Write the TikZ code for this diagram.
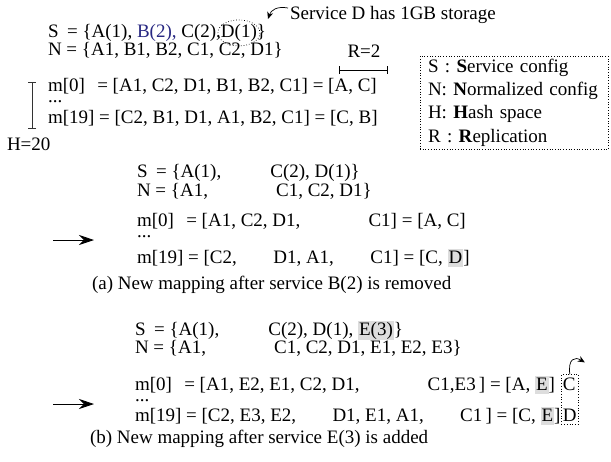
\documentclass[tikz,border=0pt]{standalone}
\usepackage{fontspec}
\setmainfont{Liberation Serif}
\usetikzlibrary{arrows.meta,fit,calc}
\definecolor{blueB}{RGB}{40,40,130}
\definecolor{hlgray}{RGB}{221,221,221}
\newcommand{\hlbox}[1]{{\setlength{\fboxsep}{1pt}\colorbox{hlgray}{\vphantom{[}#1}}}
\begin{document}
\begin{tikzpicture}[x=1pt,y=-1pt,
  every node/.style={inner sep=0pt,outer sep=0pt,font=\fontsize{19}{23.3}\selectfont},
  txt/.style={anchor=base west},
  dotsnode/.style={anchor=base west,text height=3pt,text depth=0pt},
  bigarrow/.style={line width=0.8pt,-{Stealth[length=15pt,width=10pt,inset=5pt]}},
  smallarrow/.style={line width=0.7pt,-{Stealth[length=7pt,width=6pt]}},
  barline/.style={line width=0.7pt,{Bar[width=8pt]}-{Bar[width=8pt]}},
  dotbox/.style={draw,dotted,line width=0.7pt}]
\useasboundingbox (0,0) rectangle (611,461);

% ---------- top configuration ----------
\node[txt] (svc) at (290,19) {Service D has 1GB storage};
\node[txt] (S0) at (48,37) {S\hspace{0.2em} = \{A(1), \textcolor{blueB}{B(2),} C(2),\ };
\node[txt] (SD) at (S0.base east) {D(1)};
\node[txt] (S2) at (SD.base east) {\}};
\draw[dotted,line width=0.7pt] ($(SD.center)+(0,0.5)$) ellipse [x radius=21, y radius=13];
\coordinate (svcA) at (288,8);
\coordinate (svcB) at (268,19);
\draw[smallarrow] (svcA) .. controls +(-11,-2) and +(3,-9) .. (svcB);

\node[txt] (N0) at (48,55) {N = \{A1, B1, B2, C1, C2, D1\}};

\node[anchor=base] (rlab) at (364,57) {R=2};
\coordinate (r1) at (339,70);
\coordinate (r2) at (388,70);
\draw[barline] (r1) -- (r2);

\node[txt] (m0) at (48,91) {m[0]\hspace{0.4em} = [A1, C2, D1, B1, B2, C1] = [A, C]};
\node[dotsnode] (dots0) at (48,102) {...};
\node[txt] (m19) at (48,123) {m[19] = [C2, B1, D1, A1, B2, C1] = [C, B]};
\coordinate (h1) at (32,82);
\coordinate (h2) at (32,129);
\draw[barline,black!80] (h1) -- (h2);
\node[txt] (H) at (7,150) {H=20};

% ---------- legend ----------
\node[dotbox,anchor=north west,align=left,text width=172pt,minimum width=188pt,
      inner xsep=8pt,inner ysep=3pt] (leg) at (420,56)
  {S : \textbf{S}ervice config\\
   N: \textbf{N}ormalized config\\
   H: \textbf{H}ash space\\
   R : \textbf{R}eplication};

% ---------- (a) ----------
\node[txt] (aS) at (137,177) {S\hspace{0.2em} = \{A(1), \phantom{B(2), }C(2), D(1)\}};
\node[txt] (aN) at (137,196) {N = \{A1, \phantom{B1, B2, }C1, C2, D1\}};
\node[txt] (am0) at (137,226) {m[0]\hspace{0.4em} = [A1, C2, D1, \phantom{B1, B2, }C1] = [A, C]};
\node[dotsnode] (adots) at (137,237) {...};
\node[txt] (am19) at (137,263) {m[19] = [C2, \phantom{B1, }D1, A1, \phantom{B2, }C1] = [C, \hlbox{D}]};
\coordinate (aA1) at (53,240);
\coordinate (aA2) at (94,240);
\draw[bigarrow] (aA1) -- (aA2);
\node[txt] (capa) at (92,289) {(a) New mapping after service B(2) is removed};

% ---------- (b) ----------
\node[txt] (bS) at (135,335) {S\hspace{0.2em} = \{A(1), \phantom{B(2), }C(2), D(1), \hlbox{E(3)}\}};
\node[txt] (bN) at (135,353) {N = \{A1, \phantom{B1, B2, }C1, C2, D1, E1, E2, E3\}};
\node[txt] (bm0) at (135,390) {m[0]\hspace{0.4em} = [A1, E2, E1, C2, D1, \phantom{B1, B2, }C1,E3\,] = [A, \hlbox{E}]};
\node[dotsnode] (bdots) at (135,401) {...};
\node[txt] (bm19) at (135,421) {m[19] = [C2, E3, E2, \phantom{B1, }D1, E1, A1, \phantom{B2, }C1\,] = [C, \hlbox{E}]};
\node[txt] (bC) at ($(bm0.base east)+(8,0)$) {C};
\node[txt] (bD) at (bC.base west |- bm19.base) {D};
\node[dotbox,fit=(bC)(bD),inner xsep=1.5pt,inner ysep=3pt] (cdbox) {};
\coordinate (cdtip) at ($(cdbox.north)+(15,-12)$);
\draw[smallarrow] (cdbox.north) .. controls +(-2,-16) and +(-10,-6) .. (cdtip);
\coordinate (bA1) at (53,404);
\coordinate (bA2) at (94,404);
\draw[bigarrow] (bA1) -- (bA2);
\node[txt] (capb) at (90,443) {(b) New mapping after service E(3) is added};
\end{tikzpicture}
\end{document}
